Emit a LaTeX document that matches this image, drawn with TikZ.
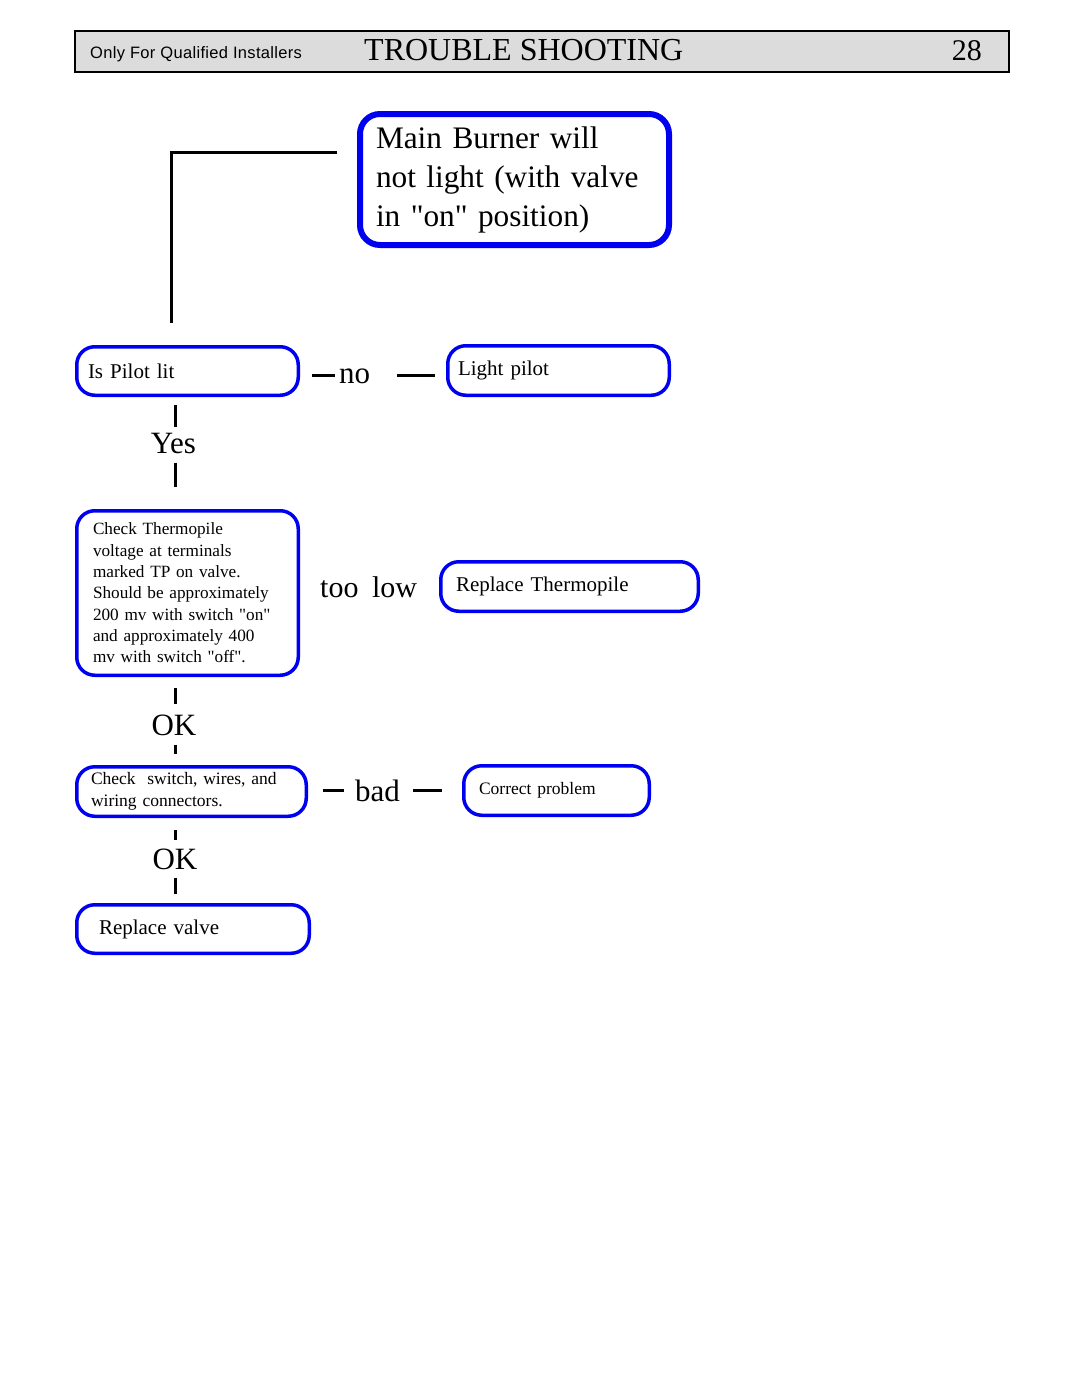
\documentclass[tikz,border=0pt]{standalone}
\usepackage{fontspec}
\setmainfont{Liberation Serif}[Ligatures=TeXOff]
\newfontfamily\hdrsans{Liberation Sans}[LetterSpace=2]
\definecolor{boxblue}{RGB}{0,0,240}
\definecolor{hdrgray}{RGB}{220,220,220}
\newcommand\fsz[2]{\fontsize{#1}{#2}\selectfont}
\tikzset{
  box/.style={draw=boxblue, line width=3.5pt, rounded corners=18pt, align=left, inner ysep=0pt, font=\fsz{21}{25}},
  lab/.style={inner sep=0pt, font=\fsz{31}{36}},
  conn/.style={line width=3pt, draw=black}
}
\begin{document}
\begin{tikzpicture}[x=1pt, y=-1pt]
\useasboundingbox[fill=white] (0,0) rectangle (1080,1397);
% header
\node[draw=black, fill=hdrgray, line width=2pt, minimum width=934pt, minimum height=41pt, inner sep=0pt] (hdr) at (542,51.5) {};
\node[anchor=base west, inner sep=0pt, font=\hdrsans\fsz{16.5}{20}] (qual) at (90,59) {Only For Qualified Installers};
\node[anchor=base west, inner sep=0pt, font=\fsz{32}{36}] (title) at (364,61) {TROUBLE SHOOTING};
\node[anchor=base east, inner sep=0pt, font=\fsz{30}{36}] (pg) at (982,61) {28};
% boxes
\node[box, line width=6pt, rounded corners=20pt, minimum width=309pt, minimum height=131pt, text width=277pt, inner xsep=16pt, font=\fsz{31.3}{39}] (main) at (514.5,179.5)
  {Main Burner will\\not light (with valve\\in "on" position)};
\node[box, minimum width=221.5pt, minimum height=48.5pt, text width=199pt, inner xsep=11.25pt] (pilot) at (187.5,371) {Is Pilot lit};
\node[box, minimum width=221.5pt, minimum height=49.5pt, text width=201pt, inner xsep=10.25pt] (light) at (558.5,370.5) {Light pilot};
\node[box, minimum width=221.5pt, minimum height=164.5pt, text width=189pt, inner xsep=16.25pt, font=\fsz{17.2}{21.3}] (thermo) at (187.5,593)
  {Check Thermopile\\voltage at terminals\\marked TP on valve.\\Should be approximately\\200 mv with switch "on"\\and approximately 400\\mv with switch "off".};
\node[box, minimum width=257.5pt, minimum height=49.5pt, text width=227pt, inner xsep=15.25pt] (repthermo) at (569.5,586.5) {Replace Thermopile};
\node[box, minimum width=229.5pt, minimum height=49.5pt, text width=201pt, inner xsep=14.25pt, font=\fsz{17.5}{22}] (switch) at (191.5,791.5)
  {Check\ \ switch, wires, and\\wiring connectors.};
\node[box, minimum width=185.5pt, minimum height=49.5pt, text width=155pt, inner xsep=15.25pt, font=\fsz{17.5}{22}] (correct) at (556.5,790.5) {Correct problem};
\node[box, minimum width=232.5pt, minimum height=48.5pt, text width=188pt, inner xsep=22.25pt] (valve) at (193,929) {Replace valve};
% labels
\node[lab, anchor=base west] (no) at (339,383) {no};
\node[lab, anchor=base] (yes) at (173.5,453) {Yes};
\node[lab, anchor=base west, font=\fsz{30}{36}] (toolow) at (320,597) {too\hspace{0.45em}low};
\node[lab, anchor=base] (ok1) at (174,735) {OK};
\node[lab, anchor=base west] (bad) at (355,801) {bad};
\node[lab, anchor=base] (ok2) at (175,869) {OK};
% connectors
\draw[conn, shorten <=20pt, shorten >=21.75pt] ([yshift=27.5pt]main.west) -| ([xshift=-16.5pt]pilot.north);
\draw[conn, shorten <=11.75pt, shorten >=4pt] (pilot.east |- no) -- (no.west);
\draw[conn, shorten <=27pt, shorten >=10.75pt] (no.east) -- (no.east -| light.west);
\draw[conn, shorten <=7.75pt, shorten >=6pt] ([xshift=1.5pt]yes.north |- pilot.south) -- ([xshift=1.5pt]yes.north);
\draw[conn, shorten <=9pt, shorten >=21.75pt] ([xshift=1.5pt]yes.south) -- ([xshift=1.5pt]yes.south |- thermo.north);
\draw[conn, shorten <=10.75pt, shorten >=10.5pt] ([xshift=1pt]ok1.north |- thermo.south) -- ([xshift=1pt]ok1.north);
\draw[conn, shorten <=9pt, shorten >=10.75pt] ([xshift=1pt]ok1.south) -- ([xshift=1pt]ok1.south |- switch.north);
\draw[conn, shorten <=14.75pt, shorten >=11pt] (switch.east |- bad) -- (bad.west);
\draw[conn, shorten <=13pt, shorten >=19.75pt] (bad.east) -- (bad.east -| correct.west);
\draw[conn, shorten <=11.75pt, shorten >=8.5pt] (ok2.north |- switch.south) -- (ok2.north);
\draw[conn, shorten <=8pt, shorten >=9.25pt] (ok2.south) -- (ok2.south |- valve.north);
\end{tikzpicture}
\end{document}
